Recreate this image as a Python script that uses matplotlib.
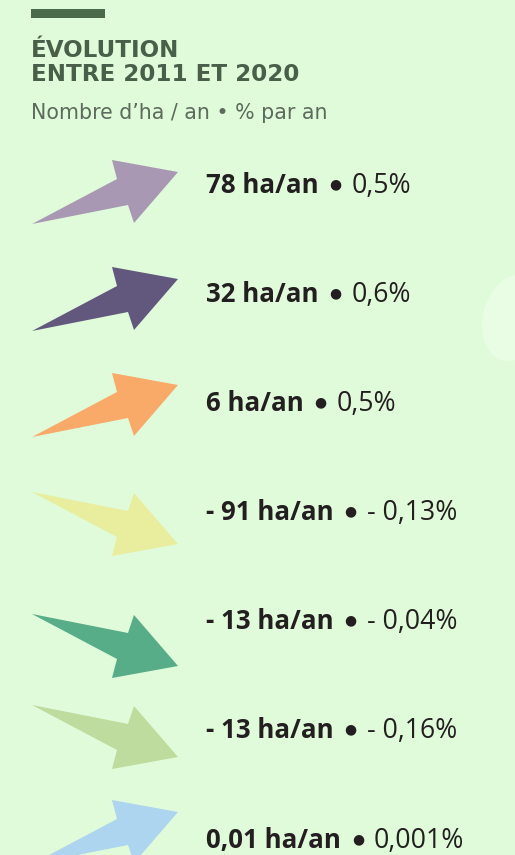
import matplotlib
matplotlib.use("Agg")
import matplotlib.pyplot as plt
from matplotlib.patches import Polygon, Rectangle, Ellipse

# ---- data ----
values_ha = ["78", "32", "6", "- 91", "- 13", "- 13", "0,01"]
values_pct = ["0,5%", "0,6%", "0,5%", "- 0,13%", "- 0,04%", "- 0,16%", "0,001%"]
direction = [1, 1, 1, -1, -1, -1, 1]   # 1 = up, -1 = down
colors = ["#a898b4", "#62587e", "#f9aa68", "#e8ee9e", "#57ad88", "#bddc9d", "#aed5f0"]

title_lines = ["ÉVOLUTION", "ENTRE 2011 ET 2020"]
subtitle = "Nombre d’ha / an • % par an"

# ---- layout ----
W, H = 515, 855
BG = "#e0fbd9"
arrow_cy = [192, 299, 405, 524, 646, 737, 832]
text_base = [193, 302, 411, 520, 629, 738, 848]
# arrow template (x, dy) for an upward arrow
tmpl = [(32, 32), (128, 13), (134, 31), (178, -20), (112, -32), (117, -13)]

fig = plt.figure(figsize=(W / 100, H / 100), dpi=100)
fig.patch.set_facecolor(BG)
ax = fig.add_axes([0, 0, 1, 1])
ax.set_xlim(0, W)
ax.set_ylim(H, 0)
ax.axis("off")
ax.set_facecolor(BG)

# faint blob on right edge
ax.add_patch(Ellipse((514, 318), 62, 88, angle=15, color="#e8fde4", lw=0))

# top bar
ax.add_patch(Rectangle((31, 9), 74, 9, color="#4b6a4b", lw=0))

ax.text(31, 57, title_lines[0], fontsize=16.6, fontweight="bold", family="DejaVu Sans",
        color="#4a5f4a", va="baseline", ha="left")
ax.text(31, 81, title_lines[1], fontsize=16.6, fontweight="bold", family="DejaVu Sans",
        color="#4a5f4a", va="baseline", ha="left")
ax.text(31, 119, subtitle, fontsize=14.8, family="DejaVu Sans",
        color="#5d6a5d", va="baseline", ha="left")

fig.canvas.draw()
renderer = fig.canvas.get_renderer()
inv = ax.transData.inverted()


def right_edge(t):
    bb = t.get_window_extent(renderer)
    return inv.transform((bb.x1, bb.y0))[0]


for i in range(len(values_ha)):
    d = direction[i]
    cy = arrow_cy[i]
    pts = [(x, cy + d * dy) for x, dy in tmpl]
    ax.add_patch(Polygon(pts, closed=True, color=colors[i], lw=0))

    tb = ax.text(206, text_base[i], values_ha[i] + " ha/an", fontsize=18.6, fontweight="bold",
                 family="Open Sans", color="#231f20", va="baseline", ha="left")
    x_end = right_edge(tb)
    ax.text(x_end + 17, text_base[i] - 9, "●", fontsize=10,
            family="DejaVu Sans", color="#231f20", va="center", ha="center")
    ax.text(x_end + 33, text_base[i], values_pct[i], fontsize=19.2,
            family="Open Sans", color="#231f20", va="baseline", ha="left")

fig.savefig("out.png", dpi=100, facecolor=BG)
